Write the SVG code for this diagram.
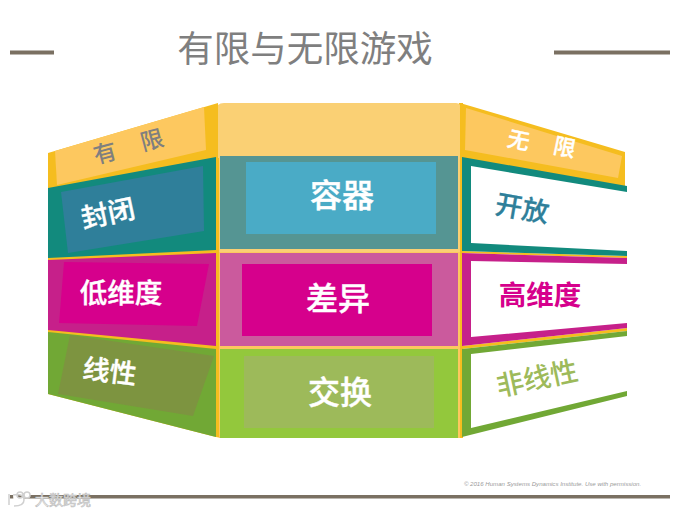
<svg xmlns="http://www.w3.org/2000/svg" width="684" height="514" viewBox="0 0 684 514">
<style>
text{font-family:"Noto Sans CJK SC","Noto Sans",sans-serif;text-anchor:middle;font-weight:500}
.w{fill:#fff;stroke:#fff;stroke-width:.4}
.g{fill:#7f7f7f}
.rule{fill:#7a7062}
.y{fill:#f5bd1f}
</style>
<rect width="684" height="514" fill="#fff"/>
<g id="title">
<rect class="rule" x="10" y="50.500" width="44" height="4"/>
<rect class="rule" x="554" y="50.500" width="116" height="4"/>
<text class="g" x="305" y="62" font-size="36.500" style="font-weight:400">有限与无限游戏</text>
</g>
<g id="frame">
<polygon class="y" points="48,190 218,150 221,150 221,438 216,437 48,394"/>
<polygon class="y" points="459,103 463,103 463,438 459,438"/>
<polygon class="y" points="462,251 627,256 627,258 462,253"/>
<polygon class="y" points="462,346 627,328 627,331 462,349"/>
</g>
<g id="left-head">
<polygon class="y" points="48,153 218,103 218,158 48,190"/>
<polygon points="55,151 204,107 206,150 57,185" fill="#fdc85f"/>
<text class="g" font-size="23" transform="translate(107 161) rotate(-15)">有</text>
<text class="g" font-size="23" transform="translate(154 148) rotate(-15)">限</text>
</g>
<g id="left-closed">
<polygon points="48,188 216,157 216,250 48,258" fill="#128a7d"/>
<polygon points="61,192 203,166 204,231 68,253" fill="#2f7f9a"/>
<text class="w" font-size="27" transform="translate(110 223) rotate(-12)">封闭</text>
</g>
<g id="left-high">
<polygon points="48,260 216,253 216,346 48,330" fill="#c6208a"/>
<polygon points="64,262 209,264 197,326 59,323" fill="#d6008c"/>
<text class="w" font-size="27.500" x="121" y="303">低维度</text>
</g>
<g id="left-linear">
<polygon points="48,332 216,349 216,437 48,394" fill="#71a835"/>
<polygon points="70,335 214,356 193,416 58,394" fill="#7d9440"/>
<text class="w" font-size="27" transform="translate(108.500 381) rotate(7)">线性</text>
</g>
<g id="center-head">
<path d="M224,103H456Q459,103 460,105V158H218V105Q220,103 224,103Z" fill="#fad074"/>
</g>
<g id="center-container">
<rect x="219" y="156" width="241" height="97" fill="#fad074"/>
<rect x="220" y="156" width="238" height="93" fill="#559593"/>
<rect x="246" y="162" width="190" height="72" fill="#4aabc6"/>
<text class="w" font-size="32" x="342" y="207">容器</text>
</g>
<g id="center-difference">
<rect x="219" y="252" width="241" height="97" fill="#fdc85f"/>
<rect x="220" y="253" width="238" height="93" fill="#cb5a9d"/>
<rect x="242" y="264" width="190" height="72" fill="#d6008c"/>
<text class="w" font-size="32" x="338" y="310">差异</text>
</g>
<g id="center-exchange">
<rect x="219" y="346" width="241" height="92" fill="#fdc85f"/>
<path d="M220,349H458V438H220Z" fill="#93c83c"/>
<rect x="244" y="356" width="190" height="72" fill="#9dba5a"/>
<text class="w" font-size="32" x="340" y="404">交换</text>
</g>
<g id="right-head">
<polygon class="y" points="460,103 625,152 625,187 462,158"/>
<polygon points="466,108 622,156 618,178 465,150" fill="#fdc85f"/>
<text class="w" font-size="22" transform="translate(517 148) rotate(12)">无</text>
<text class="w" font-size="22" transform="translate(563 155) rotate(12)">限</text>
</g>
<g id="right-open">
<path d="M462,157L627,186V192L471,166V243L627,251V256L462,251Z" fill="#128a7d"/>
<text font-size="27" fill="#2f7f9a" stroke="#2f7f9a" stroke-width=".3" transform="translate(520.500 218) rotate(10)">开放</text>
</g>
<g id="right-high">
<path d="M462,253L627,258V264L471,261V337L627,323V328L462,346Z" fill="#c6208a"/>
<text font-size="27.500" fill="#d6008c" x="540" y="305" style="font-weight:700">高维度</text>
</g>
<g id="right-nonlinear">
<path d="M462,349L627,331V336L471,354V428L627,391V396L462,437Z" fill="#71a835"/>
<text font-size="27.500" fill="#9dba5a" transform="translate(539 388) rotate(-12)">非线性</text>
</g>
<g id="footer">
<rect class="rule" x="10" y="495" width="660" height="3.500"/>
<text x="552.500" y="486" font-size="6.100" fill="#9a9a9a" font-style="italic" style="font-family:'Liberation Sans',sans-serif;font-weight:400">© 2016 Human Systems Dynamics Institute. Use with permission.</text>
<path d="M9,494V505M13,495Q24,493 24,500Q24,506 14,506M17,495a3,3 0 1 0 6,0a3,3 0 1 0 -6,0M24,495a3,3 0 1 0 6,0a3,3 0 1 0 -6,0" fill="#fff" stroke="#d0d0d0" stroke-width="1.500"/>
<text x="63" y="505" font-size="14" fill="#fff" stroke="#c0c0c0" stroke-width=".7" style="font-weight:400">大数跨境</text>
</g>
</svg>
